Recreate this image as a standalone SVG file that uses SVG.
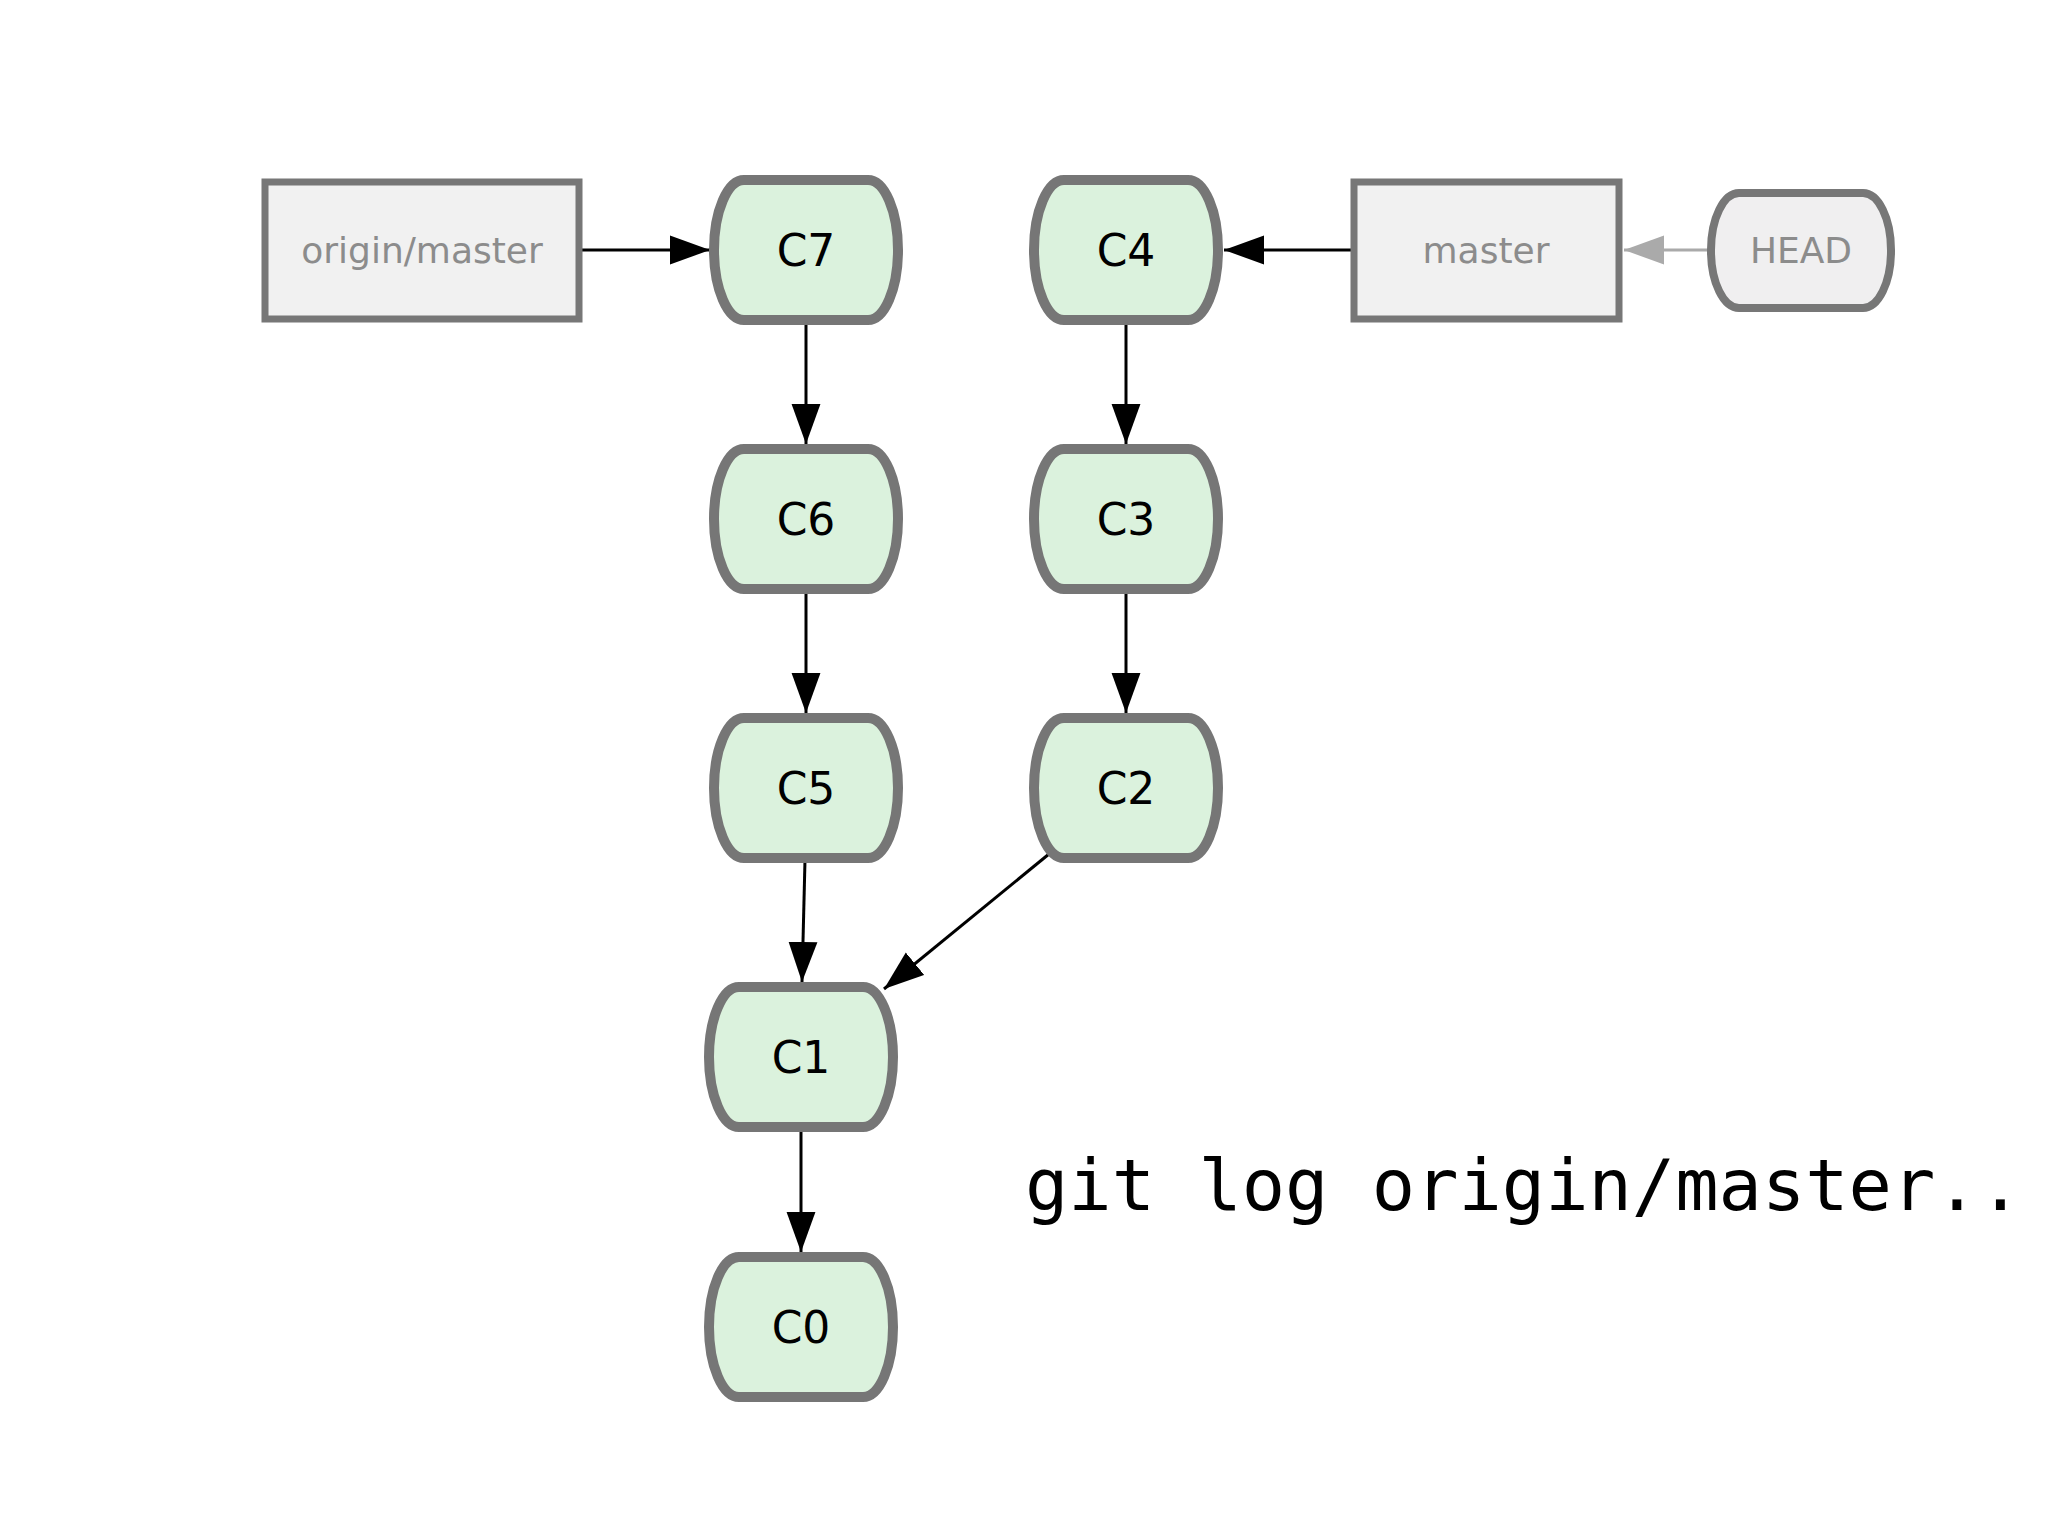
<svg xmlns="http://www.w3.org/2000/svg" width="2048" height="1536" viewBox="0 0 2048 1536">
<style>
.commit rect{fill:#dbf2dd;stroke:#767676;stroke-width:10}
.ref rect{fill:#f1f1f1;stroke:#777777;stroke-width:7}
.head rect{fill:#f0eff0;stroke:#777777;stroke-width:8}
.ctext{font-family:"DejaVu Sans",sans-serif;font-size:44px;fill:#000;text-anchor:middle}
.rtext{font-family:"DejaVu Sans",sans-serif;font-size:36px;fill:#8c8c8c;text-anchor:middle}
.edge{stroke:#000;stroke-width:3;fill:none}
.edge-gray{stroke:#aaaaaa;stroke-width:3;fill:none}
.cmd{font-family:"DejaVu Sans Mono",monospace;font-size:72px;fill:#000}
</style>
<defs>
<marker id="ah" markerUnits="userSpaceOnUse" markerWidth="40" markerHeight="30" viewBox="0 0 36 26" refX="36" refY="13" orient="auto">
<path d="M0,0 L36,13 L0,26 Z" fill="#000"/>
</marker>
<marker id="ahg" markerUnits="userSpaceOnUse" markerWidth="40" markerHeight="30" viewBox="0 0 36 26" refX="36" refY="13" orient="auto">
<path d="M0,0 L36,13 L0,26 Z" fill="#aaaaaa"/>
</marker>
</defs>
<g id="edges">
<line class="edge" x1="579" y1="250" x2="710" y2="250" marker-end="url(#ah)"/>
<line class="edge" x1="806" y1="322" x2="806" y2="444" marker-end="url(#ah)"/>
<line class="edge" x1="806" y1="591" x2="806" y2="713" marker-end="url(#ah)"/>
<line class="edge" x1="805" y1="860" x2="802" y2="982" marker-end="url(#ah)"/>
<line class="edge" x1="1049" y1="854" x2="884" y2="989" marker-end="url(#ah)"/>
<line class="edge" x1="801" y1="1129" x2="801" y2="1252" marker-end="url(#ah)"/>
<line class="edge" x1="1126" y1="322" x2="1126" y2="444" marker-end="url(#ah)"/>
<line class="edge" x1="1126" y1="591" x2="1126" y2="713" marker-end="url(#ah)"/>
<line class="edge" x1="1354" y1="250" x2="1224" y2="250" marker-end="url(#ah)"/>
<line class="edge-gray" x1="1711" y1="250" x2="1624" y2="250" marker-end="url(#ahg)"/>
</g>
<g id="origin-master" class="ref"><rect x="265" y="182" width="314" height="137"/><text class="rtext" x="422" y="263">origin/master</text></g>
<g id="master" class="ref"><rect x="1354" y="182" width="265" height="137"/><text class="rtext" x="1486" y="263">master</text></g>
<g id="HEAD" class="head"><rect x="1711" y="193" width="180" height="115" rx="28" ry="57"/><text class="rtext" x="1801" y="263">HEAD</text></g>
<g id="C7" class="commit"><rect x="714" y="180" width="184" height="140" rx="30" ry="70"/><text class="ctext" x="806" y="266">C7</text></g>
<g id="C6" class="commit"><rect x="714" y="449" width="184" height="140" rx="30" ry="70"/><text class="ctext" x="806" y="535">C6</text></g>
<g id="C5" class="commit"><rect x="714" y="718" width="184" height="140" rx="30" ry="70"/><text class="ctext" x="806" y="804">C5</text></g>
<g id="C4" class="commit"><rect x="1034" y="180" width="184" height="140" rx="30" ry="70"/><text class="ctext" x="1126" y="266">C4</text></g>
<g id="C3" class="commit"><rect x="1034" y="449" width="184" height="140" rx="30" ry="70"/><text class="ctext" x="1126" y="535">C3</text></g>
<g id="C2" class="commit"><rect x="1034" y="718" width="184" height="140" rx="30" ry="70"/><text class="ctext" x="1126" y="804">C2</text></g>
<g id="C1" class="commit"><rect x="709" y="987" width="184" height="140" rx="30" ry="70"/><text class="ctext" x="801" y="1073">C1</text></g>
<g id="C0" class="commit"><rect x="709" y="1257" width="184" height="140" rx="30" ry="70"/><text class="ctext" x="801" y="1343">C0</text></g>
<g id="command"><text class="cmd" x="1025" y="1210">git log origin/master..</text></g>
</svg>
